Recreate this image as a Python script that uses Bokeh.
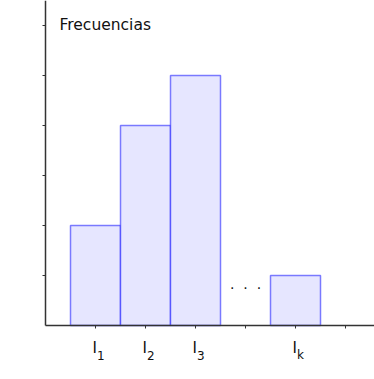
from bokeh.plotting import figure
from bokeh.models import Range1d, ColumnDataSource
from bokeh.embed import file_html
from bokeh.resources import INLINE
from bokeh.core.properties import value

# data
bar_x = [1, 2, 3, 5]
bar_h = [2, 4, 5, 1]
tick_x = [1, 2, 3, 5]
tick_sub = ["1", "2", "3", "k"]
y_ticks = [1, 2, 3, 4, 5, 6]
x_ticks = [1, 2, 3, 4, 5, 6]
y_title = "Frecuencias"

FONT = "DejaVu Sans"
X0, X1 = -0.9, 6.58
Y0, Y1 = -1.08, 6.5
TICK = 0.06

p = figure(width=374, height=379, output_backend="svg", toolbar_location=None,
           x_range=Range1d(X0, X1), y_range=Range1d(Y0, Y1),
           min_border_left=0, min_border_bottom=0, min_border_top=0, min_border_right=0)
p.outline_line_color = None
p.xaxis.visible = False
p.yaxis.visible = False
p.xgrid.visible = False
p.ygrid.visible = False
p.background_fill_color = "white"
p.border_fill_color = "white"

# bars
src = ColumnDataSource(dict(x=bar_x, top=bar_h))
p.vbar(x="x", top="top", bottom=0, width=1, source=src,
       fill_color="#e6e6ff", line_color="#0000ff", line_alpha=0.5, line_width=1.5)

# axes lines and ticks
AX = "#333333"
p.segment(x0=[0, 0], y0=[0, 0], x1=[X1, 0], y1=[0, Y1], line_color=AX, line_width=1.5)
p.segment(x0=[-TICK] * len(y_ticks), y0=y_ticks, x1=[0] * len(y_ticks), y1=y_ticks,
          line_color=AX, line_width=1)
p.segment(x0=x_ticks, y0=[-TICK] * len(x_ticks), x1=x_ticks, y1=[0] * len(x_ticks),
          line_color=AX, line_width=1)

# tick labels I_sub
lab_src = ColumnDataSource(dict(x=tick_x, sub=tick_sub, main=["I"] * len(tick_x)))
p.text(x="x", y=-0.45, text="main", source=lab_src, text_align="center",
       text_font=value(FONT), text_font_size="15px", text_color="#111111",
       text_baseline="alphabetic", x_offset=-0.8)
p.text(x="x", y=-0.59, text="sub", source=lab_src, text_align="left",
       text_font=value(FONT), text_font_size="12px", text_color="#111111",
       text_baseline="alphabetic", x_offset=1.5)

# title and ellipsis
p.text(x=[0.28], y=[6.01], text=[y_title], text_font=value(FONT),
       text_font_size="15.5px", text_color="#111111", text_baseline="alphabetic")
p.text(x=[4], y=[0.83], text=[".\u00a0\u00a0.\u00a0\u00a0."], text_font=value(FONT),
       text_align="center", text_font_size="14px", text_color="#111111",
       text_baseline="alphabetic")

open("out.html", "w").write(file_html(p, INLINE))
